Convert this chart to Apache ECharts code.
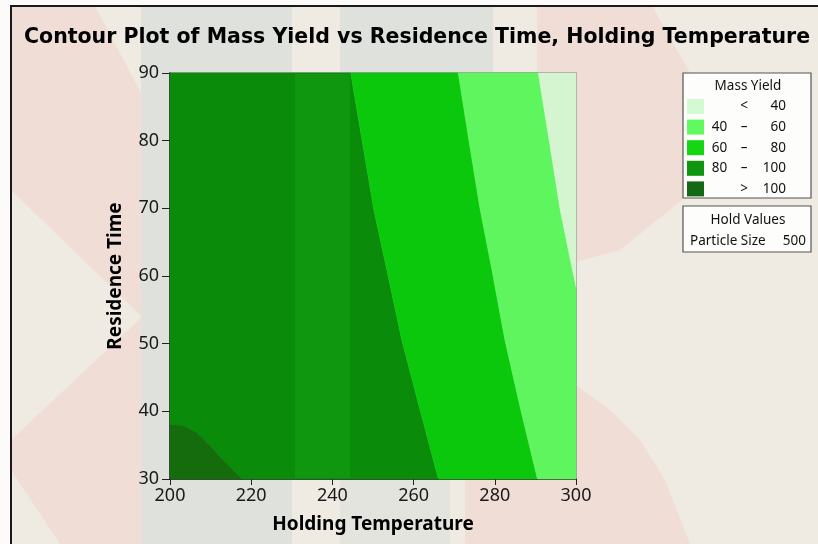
<!DOCTYPE html>
<html>
<head>
<meta charset="utf-8">
<script src="https://cdn.jsdelivr.net/npm/echarts@6/dist/echarts.min.js"></script>
<style>
html,body{margin:0;padding:0;background:#fdfbfa;}
#chart{width:818px;height:544px;}
</style>
</head>
<body>
<div id="chart"></div>
<script>
// ---- data (Holding Temperature, Residence Time) ----
var xTicks = [200, 220, 240, 260, 280, 300];
var yTicks = [30, 40, 50, 60, 70, 80, 90];
var levelNames = ['<40', '40-60', '60-80', '80-100', '>100'];
// contour 80 (boundary between 80-100 and 60-80), listed top to bottom
var contour80 = [[244.5, 90], [247.3, 80.1], [250.2, 69.8], [253.4, 60.9], [257.1, 50.5], [261.6, 40.2], [266.1, 30]];
// contour 60 (boundary between 60-80 and 40-60), top to bottom
var contour60 = [[271.0, 90], [273.6, 80.1], [276.4, 69.8], [279.3, 60.9], [282.5, 50.5], [286.4, 40.2], [290.5, 30]];
// contour 40 (boundary between 40-60 and <40), top to right edge
var contour40 = [[290.7, 90], [293.4, 80], [296.1, 69.8], [298.4, 63], [300, 58.4]];
// contour 100 (boundary of >100 region), left edge to bottom
var contour100 = [[200, 38.0], [203.3, 37.9], [206.5, 36.9], [209.9, 34.9], [213.1, 32.8], [217.7, 30]];

var plotColors = {'<40': '#d5f5d0', '40-60': '#5ef55e', '60-80': '#0cc80c', '80-100': '#0a8c0a', '>100': '#156c0c'};
var legendColors = {'<40': '#d4fad4', '40-60': '#60fa60', '60-80': '#14d714', '80-100': '#0f960f', '>100': '#146914'};

var X0 = 200, X1 = 300, Y0 = 30, Y1 = 90;
function rev(a) { return a.slice().reverse(); }
var regions = {
  '>100': [[X0, Y0]].concat(contour100),
  '80-100': [[X0, Y1]].concat(contour80, rev(contour100)),
  '60-80': contour80.concat(rev(contour60)),
  '40-60': contour60.concat([[X1, Y0]], rev(contour40)),
  '<40': contour40.concat([[X1, Y1]])
};

function makeSeries(name) {
  return {
    name: name,
    type: 'custom',
    coordinateSystem: 'cartesian2d',
    itemStyle: {color: plotColors[name]},
    silent: true,
    data: [[X0, Y0]],
    encode: {x: 0, y: 1},
    renderItem: function (params, api) {
      var pts = regions[name].map(function (p) { return api.coord(p); });
      return {
        type: 'polygon',
        shape: {points: pts},
        style: {fill: plotColors[name], stroke: plotColors[name], lineWidth: 0.5}
      };
    }
  };
}

var fontUI = '"Noto Sans", "DejaVu Sans", sans-serif';
var legendFmt = {
  '<40':   '{a|}{b|<}{c|40}',
  '40-60': '{a|40}{b|–}{c|60}',
  '60-80': '{a|60}{b|–}{c|80}',
  '80-100':'{a|80}{b|–}{c|100}',
  '>100':  '{a|}{b|>}{c|100}'
};

var PINK = '#f0ded6', BEIGE = '#efebe2', GRAY = '#dee1dc';
var chart = echarts.init(document.getElementById('chart'));
chart.setOption({
  animation: false,
  backgroundColor: '#fdfbfa',
  title: {
    text: 'Contour Plot of Mass Yield vs Residence Time, Holding Temperature',
    left: 19, top: 22,
    textStyle: {fontFamily: '"DejaVu Sans", sans-serif', fontWeight: 'bold', fontSize: 20.5, color: '#000'}
  },
  grid: {left: 170, top: 73, width: 406, height: 406, show: true, borderColor: '#8a8a8a', borderWidth: 1.5, backgroundColor: 'transparent'},
  xAxis: {
    type: 'value', min: X0, max: X1, interval: 20,
    name: 'Holding Temperature', nameLocation: 'middle', nameGap: 36,
    nameTextStyle: {fontFamily: fontUI, fontWeight: 'bold', fontSize: 19, color: '#000'},
    axisLine: {lineStyle: {color: '#222', width: 1.5}},
    axisTick: {length: 6, lineStyle: {color: '#222'}},
    axisLabel: {fontFamily: fontUI, fontSize: 18, color: '#1a1a1a', margin: 8},
    splitLine: {show: false}
  },
  yAxis: {
    type: 'value', min: Y0, max: Y1, interval: 10,
    name: 'Residence Time', nameLocation: 'middle', nameGap: 45,
    nameTextStyle: {fontFamily: fontUI, fontWeight: 'bold', fontSize: 19, color: '#000'},
    axisLine: {lineStyle: {color: '#222', width: 1.5}},
    axisTick: {length: 8, lineStyle: {color: '#222'}},
    axisLabel: {fontFamily: fontUI, fontSize: 18, color: '#1a1a1a', margin: 11},
    splitLine: {show: false}
  },
  legend: {
    orient: 'vertical', left: 687, top: 99, padding: 0,
    itemWidth: 17, itemHeight: 15, itemGap: 5.6, icon: 'rect',
    selectedMode: false,
    data: ['<40', '40-60', '60-80', '80-100', '>100'].map(function (n) {
      return {name: n, itemStyle: {color: legendColors[n]}};
    }),
    formatter: function (n) { return legendFmt[n]; },
    textStyle: {
      fontFamily: fontUI, fontSize: 13.5, color: '#111',
      rich: {
        a: {width: 21, align: 'right', fontFamily: fontUI, fontSize: 13.5, color: '#111'},
        b: {width: 28, align: 'center', fontFamily: fontUI, fontSize: 13.5, color: '#111'},
        c: {width: 28, align: 'right', fontFamily: fontUI, fontSize: 13.5, color: '#111'}
      }
    }
  },
  graphic: [
    // watermark-like background
    {type: 'rect', z: -10, silent: true, shape: {x: 11, y: 6, width: 807, height: 538}, style: {fill: BEIGE}},
    {type: 'polygon', z: -9, silent: true, shape: {points: [[11, 6], [95, 6], [150, 110], [150, 544], [60, 544], [11, 470]]}, style: {fill: PINK}},
    {type: 'polygon', z: -8, silent: true, shape: {points: [[11, 190], [142, 317], [11, 440]]}, style: {fill: BEIGE}},
    {type: 'rect', z: -8, silent: true, shape: {x: 141, y: 6, width: 151, height: 538}, style: {fill: GRAY}},
    {type: 'rect', z: -8, silent: true, shape: {x: 340, y: 6, width: 153, height: 67}, style: {fill: GRAY}},
    {type: 'rect', z: -8, silent: true, shape: {x: 340, y: 479, width: 110, height: 65}, style: {fill: '#e3e4de'}},
    {type: 'polygon', z: -8, silent: true, shape: {points: [[537, 6], [652, 6], [690, 73], [682, 200], [620, 250], [576, 262], [576, 73], [537, 73]]}, style: {fill: PINK}},
    {type: 'polygon', z: -8, silent: true, shape: {points: [[576, 385], [610, 410], [640, 440], [665, 480], [690, 544], [465, 544], [465, 479], [576, 479]]}, style: {fill: PINK}},
    // outer graph frame
    {type: 'polyline', z: 5, silent: true, shape: {points: [[11, 544], [11, 6], [818, 6]]}, style: {stroke: '#1a1a1a', lineWidth: 2, fill: null}},
    // lighter band over plot
    {type: 'rect', z: 3, silent: true, shape: {x: 295, y: 74, width: 55, height: 404}, style: {fill: 'rgba(30,180,30,0.3)'}},
    // legend box
    {type: 'rect', z: 3, silent: true, shape: {x: 683, y: 73, width: 128, height: 125}, style: {fill: '#fdfdfc', stroke: '#555', lineWidth: 1.2}},
    {type: 'text', z: 4, silent: true, style: {x: 748, y: 86, text: 'Mass Yield', textAlign: 'center', textVerticalAlign: 'middle', font: '13.5px ' + fontUI, fill: '#111'}},
    // hold values box
    {type: 'rect', z: 3, silent: true, shape: {x: 683, y: 206, width: 128, height: 46}, style: {fill: '#fdfdfc', stroke: '#555', lineWidth: 1.2}},
    {type: 'text', z: 4, silent: true, style: {x: 748, y: 220, text: 'Hold Values', textAlign: 'center', textVerticalAlign: 'middle', font: '13.5px ' + fontUI, fill: '#111'}},
    {type: 'text', z: 4, silent: true, style: {x: 690, y: 241, text: 'Particle Size', textAlign: 'left', textVerticalAlign: 'middle', font: '13.5px ' + fontUI, fill: '#111'}},
    {type: 'text', z: 4, silent: true, style: {x: 806, y: 241, text: '500', textAlign: 'right', textVerticalAlign: 'middle', font: '13.5px ' + fontUI, fill: '#111'}}
  ],
  series: ['80-100', '>100', '60-80', '40-60', '<40'].map(makeSeries)
});
</script>
</body>
</html>
